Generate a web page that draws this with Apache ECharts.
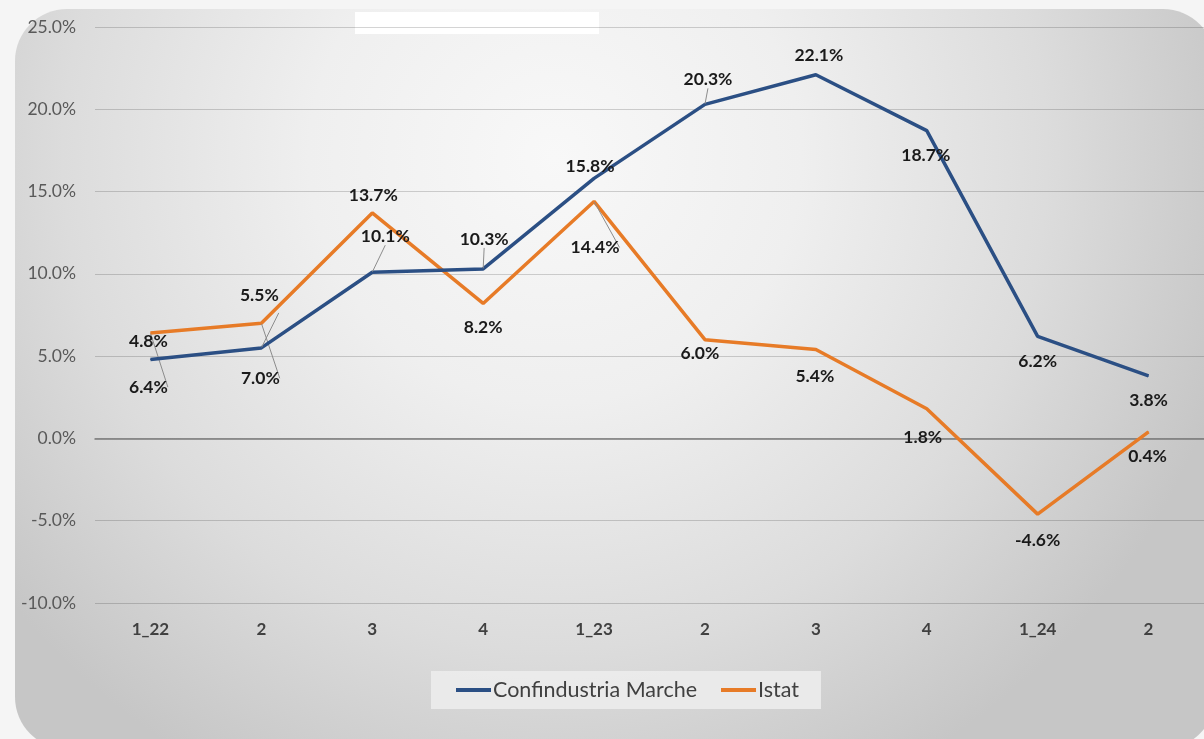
<!DOCTYPE html>
<html>
<head>
<meta charset="utf-8">
<script src="https://cdn.jsdelivr.net/npm/echarts@6/dist/echarts.min.js"></script>
<style>
html,body{margin:0;padding:0;background:#f5f5f5;}
#c{width:1204px;height:739px;}
</style>
</head>
<body>
<div id="c"></div>
<script>
var categories = ['1_22','2','3','4','1_23','2','3','4','1_24','2'];
var confindustria = [4.8, 5.5, 10.1, 10.3, 15.8, 20.3, 22.1, 18.7, 6.2, 3.8];
var istat = [6.4, 7.0, 13.7, 8.2, 14.4, 6.0, 5.4, 1.8, -4.6, 0.4];
var yTicks = {min: -10, max: 25, interval: 5};

// label placement (pixel offsets from each point), kept apart from the data
var confOffsets = [[-2,-18],[-2,-53],[13,-36],[1,-30],[-4,-12],[3,-25],[3,-19],[-1,25],[0,25],[0,24]];
var istatOffsets = [[-2,54],[-1,55],[1,-18],[0,24],[1,46],[-5,14],[-1,27],[-4,29],[0,26],[-1,25]];
var confLeader = [false,true,true,true,false,true,false,false,false,false];
var istatLeader = [true,true,false,false,true,false,false,false,false,false];

function build(values, offsets, leaders){
  return values.map(function(v,i){
    return {
      value: v,
      label: {offset: offsets[i]},
      labelLine: {show: leaders[i]}
    };
  });
}

var labelStyle = {
  show: true,
  position: 'inside',
  fontFamily: 'Lato',
  fontWeight: 'bold',
  fontSize: 17.5,
  color: '#1a1a1a',
  formatter: function(p){ return p.value.toFixed(1) + '%'; }
};

var chart = echarts.init(document.getElementById('c'));
chart.setOption({
  animation: false,
  graphic: [
    {
      type: 'rect', z: -10, silent: true,
      shape: {x: 15, y: 9, width: 1200, height: 740, r: 52},
      style: {
        fill: new echarts.graphic.RadialGradient(0.45, 0.2, 0.95, [
          {offset: 0, color: '#f8f8f8'},
          {offset: 0.35, color: '#efefef'},
          {offset: 0.7, color: '#dcdcdc'},
          {offset: 1, color: '#c6c6c6'}
        ])
      }
    },
    {
      type: 'rect', z: -9, silent: true,
      shape: {x: 355, y: 12, width: 244, height: 22},
      style: {fill: '#ffffff'}
    }
  ],
  grid: {left: 95, right: 0, top: 27, bottom: 136},
  legend: {
    left: 431, top: 671,
    padding: [8, 22, 8, 25],
    backgroundColor: 'rgba(236,236,236,0.9)',
    itemGap: 24,
    itemWidth: 35, itemHeight: 4,
    icon: 'rect',
    textStyle: {fontFamily: 'Lato', fontSize: 21.5, color: '#404040', padding: [0,0,0,-3]},
    data: ['Confindustria Marche', 'Istat']
  },
  xAxis: {
    type: 'category',
    data: categories,
    boundaryGap: true,
    axisLine: {show: true, onZero: true, lineStyle: {color: '#7a7a7a', width: 1.5}},
    axisTick: {show: false},
    axisLabel: {fontFamily: 'Lato', fontWeight: 'bold', fontSize: 17, color: '#404040', margin: 18},
    splitLine: {show: false}
  },
  yAxis: {
    type: 'value',
    min: yTicks.min, max: yTicks.max, interval: yTicks.interval,
    axisLine: {show: false},
    axisTick: {show: false},
    axisLabel: {fontFamily: 'Lato', fontSize: 17.5, color: '#595959', margin: 19,
      formatter: function(v){ return v.toFixed(1) + '%'; }},
    splitLine: {lineStyle: {color: 'rgba(0,0,0,0.17)', width: 1.2}}
  },
  series: [
    {
      name: 'Confindustria Marche',
      type: 'line',
      data: build(confindustria, confOffsets, confLeader),
      symbol: 'circle', symbolSize: 1, showSymbol: true,
      lineStyle: {color: '#2b4f84', width: 3.5},
      itemStyle: {color: '#2b4f84'},
      label: labelStyle,
      labelLine: {lineStyle: {color: '#8c8c8c', width: 1}},
      z: 3
    },
    {
      name: 'Istat',
      type: 'line',
      data: build(istat, istatOffsets, istatLeader),
      symbol: 'circle', symbolSize: 1, showSymbol: true,
      lineStyle: {color: '#e77b27', width: 3.5},
      itemStyle: {color: '#e77b27'},
      label: labelStyle,
      labelLine: {lineStyle: {color: '#8c8c8c', width: 1}},
      z: 2
    }
  ]
});
</script>
</body>
</html>
